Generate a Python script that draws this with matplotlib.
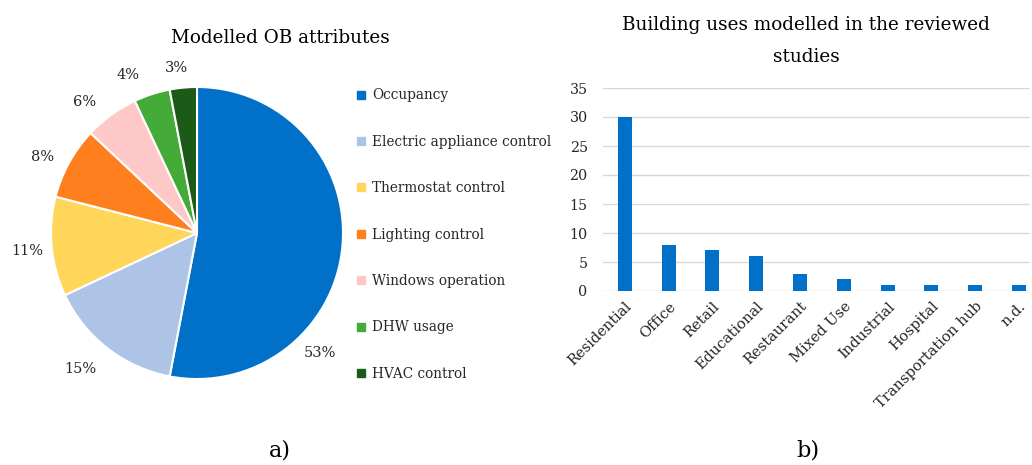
import matplotlib.pyplot as plt
from matplotlib.lines import Line2D

plt.rcParams['font.family'] = ['DejaVu Serif']

# pie data
attributes = ['Occupancy', 'Electric appliance control', 'Thermostat control',
              'Lighting control', 'Windows operation', 'DHW usage', 'HVAC control']
shares = [53, 15, 11, 8, 6, 4, 3]
pie_colors = ['#0070C8', '#AEC4E6', '#FFD55A', '#FF7F1E', '#FFC8C8', '#44AA38', '#1B5A17']

# bar data
uses = ['Residential', 'Office', 'Retail', 'Educational', 'Restaurant',
        'Mixed Use', 'Industrial', 'Hospital', 'Transportation hub', 'n.d.']
counts = [30, 8, 7, 6, 3, 2, 1, 1, 1, 1]

W, H = 1032, 465
fig = plt.figure(figsize=(W / 100, H / 100), dpi=100)

# --- a) pie ---
cx, cy, r = 197, 233, 146
ax1 = fig.add_axes([(cx - r) / W, (H - cy - r) / H, 2 * r / W, 2 * r / H])
wedges, _, autotexts = ax1.pie(shares, colors=pie_colors, startangle=90, counterclock=False,
                               autopct=lambda p: '%d%%' % round(p), pctdistance=1.17,
                               wedgeprops=dict(edgecolor='white', linewidth=1.5))
# Excel "best fit" label spots (radius units)
label_pos = [(0.84, -0.82), (-0.80, -0.93), (-1.16, -0.12), (-1.06, 0.52),
             (-0.77, 0.90), (-0.47, 1.08), (-0.14, 1.13)]
for t, p in zip(autotexts, label_pos):
    t.set_position(p)
    t.set_fontsize(10.5)
    t.set_color('#262626')
ax1.set_xlim(-1, 1)
ax1.set_ylim(-1, 1)
fig.text(280 / W, 1 - 38 / H, 'Modelled OB attributes', ha='center', va='center', fontsize=13.2)

handles = [Line2D([], [], linestyle='none', marker='s', markersize=5.5,
                  markerfacecolor=c, markeredgecolor=c) for c in pie_colors]
leg = fig.legend(handles, attributes, loc='upper left', bbox_to_anchor=(351 / W, 1 - 83 / H),
                 frameon=False, fontsize=9.8, handlelength=0.6,
                 handletextpad=0.55, labelspacing=2.38, borderaxespad=0)
for t in leg.get_texts():
    t.set_color('#262626')

# --- b) bars ---
ax2 = fig.add_axes([603 / W, (H - 291) / H, 427 / W, 203 / H])
x = range(len(uses))
ax2.bar(x, counts, width=0.32, color='#0070C8', zorder=3)
ax2.set_xlim(-0.5, 9.25)
ax2.set_ylim(0, 35)
ax2.set_yticks(range(0, 36, 5))
ax2.grid(axis='y', color='#D9D9D9', linewidth=1, zorder=0)
for s in ax2.spines.values():
    s.set_visible(False)
ax2.tick_params(length=0, labelsize=10.3, labelcolor='#262626', pad=11)
ax2.tick_params(axis='x', pad=6)
ax2.set_xticks(list(x))
ax2.set_xticklabels(uses, rotation=45, ha='right', rotation_mode='anchor', fontsize=10.5)
fig.text(806 / W, 1 - 41.5 / H, 'Building uses modelled in the reviewed\nstudies',
         ha='center', va='center', fontsize=13.2, linespacing=2.0)

fig.text(280 / W, 1 - 450 / H, 'a)', ha='center', va='center', fontsize=16)
fig.text(808 / W, 1 - 450 / H, 'b)', ha='center', va='center', fontsize=16)

fig.savefig('out.png', dpi=100)
